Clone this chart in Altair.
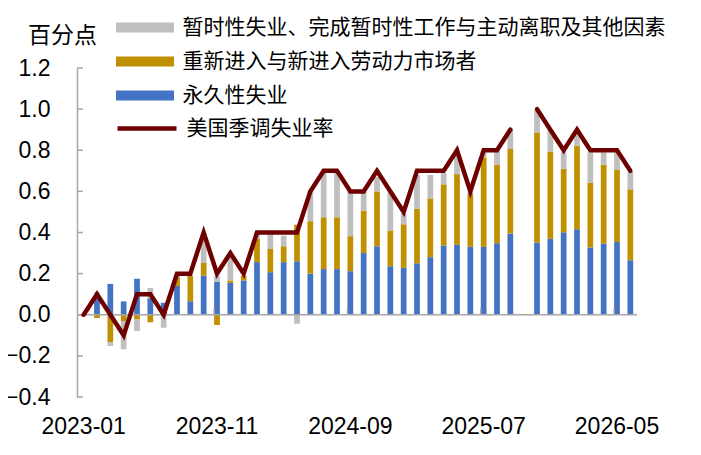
import altair as alt
import pandas as pd

months = [p.strftime("%Y-%m") for p in pd.period_range("2023-01", "2026-06", freq="M")]

# 永久性失业 (percentage points, cumulative change since 2023-01)
permanent = [0.0, 0.08, 0.15, 0.065, 0.175, 0.08, 0.058, 0.14, 0.066, 0.19,
             0.16, 0.155, 0.167, 0.256, 0.207, 0.256, 0.26, 0.20, 0.222, 0.222,
             0.212, 0.30, 0.333, 0.236, 0.228, 0.25, 0.28, 0.337, 0.34, 0.33,
             0.33, 0.348, 0.395, None, 0.351, 0.369, 0.401, 0.416, 0.327, 0.346,
             0.354, 0.265]
# 重新进入与新进入劳动力市场者
reentrant = [0.0, -0.016, -0.133, -0.031, -0.023, -0.036, 0.0, 0.043, 0.124, 0.062,
             -0.05, 0.012, 0.023, 0.114, 0.113, 0.077, 0.178, 0.255, 0.252, 0.252,
             0.17, 0.206, 0.267, 0.174, 0.212, 0.265, 0.286, 0.297, 0.344, 0.257,
             0.435, 0.382, 0.411, None, 0.536, 0.424, 0.309, 0.406, 0.315, 0.384,
             0.35, 0.345]
# 暂时性失业、完成暂时性工作与主动离职及其他因素
temporary = [0.0, 0.03, -0.019, -0.137, -0.056, 0.05, -0.063, 0.01, 0.0, 0.13,
             0.03, 0.123, 0.0, 0.03, 0.09, 0.052, -0.044, 0.145, 0.216, 0.216,
             0.218, 0.094, 0.07, 0.19, 0.05, 0.165, 0.114, 0.056, 0.096, 0.01,
             0.025, 0.07, 0.094, None, 0.108, 0.107, 0.08, 0.068, 0.148, 0.06,
             0.086, 0.086]
# 美国季调失业率
unemp = [0.0, 0.1, 0.0, -0.1, 0.1, 0.1, 0.0, 0.2, 0.2, 0.4,
         0.2, 0.3, 0.2, 0.4, 0.4, 0.4, 0.4, 0.6, 0.7, 0.7,
         0.6, 0.6, 0.7, 0.6, 0.5, 0.7, 0.7, 0.7, 0.8, 0.6,
         0.8, 0.8, 0.9, None, 1.0, 0.9, 0.8, 0.9, 0.8, 0.8,
         0.8, 0.7]

y_ticks = [-0.4, -0.2, 0.0, 0.2, 0.4, 0.6, 0.8, 1.0, 1.2]
x_labels = ["2023-01", "2023-11", "2024-09", "2025-07", "2026-05"]

S_TEMP = "暂时性失业、完成暂时性工作与主动离职及其他因素"
S_RE = "重新进入与新进入劳动力市场者"
S_PERM = "永久性失业"
S_LINE = "美国季调失业率"
bar_series = [S_TEMP, S_RE, S_PERM]
bar_colors = ["#BFBFBF", "#BF9000", "#4472C4"]
LINE_COLOR = "#6E0000"

AXIS_GRAY = "#A6A6A6"
FONT_NUM = "Liberation Sans"
FONT_CJK = "Noto Sans CJK SC"

rows = []
for m, p, r, t in zip(months, permanent, reentrant, temporary):
    if p is None:
        continue
    rows.append({"month": m, "series": S_PERM, "value": p, "k": 0})
    rows.append({"month": m, "series": S_RE, "value": r, "k": 1})
    rows.append({"month": m, "series": S_TEMP, "value": t, "k": 2})
bars_df = pd.DataFrame(rows)

seg, s = [], 0
for v in unemp:
    if v is None:
        s += 1
    seg.append(s)
line_df = pd.DataFrame({"month": months, "value": unemp, "series": S_LINE, "seg": seg})
line_df = line_df.dropna(subset=["value"])

ytick_df = pd.DataFrame({"value": y_ticks})
zero_df = pd.DataFrame({"value": [0.0]})
xtick_df = pd.DataFrame({"month": x_labels[1:]})

x_scale = alt.Scale(domain=months, paddingInner=0.57, paddingOuter=0.285)
y_scale = alt.Scale(domain=[-0.4, 1.2], nice=False, zero=False)

x_axis = alt.Axis(values=x_labels, title=None)
y_axis = alt.Axis(values=y_ticks, format=".1f", title="百分点")

X = alt.X("month:N", scale=x_scale, axis=x_axis)
Y = alt.Y("value:Q", scale=y_scale, axis=y_axis)

RECT = "M-2.9,-0.5L2.9,-0.5L2.9,0.5L-2.9,0.5Z"

bar_legend = alt.Legend(
    title=None, orient="none", legendX=57.5, legendY=-51, direction="vertical",
    symbolType=RECT, symbolSize=400, symbolStrokeWidth=0,
    labelFont=FONT_CJK, labelFontSize=21, labelColor="#000000",
    labelLimit=0, labelOffset=27, rowPadding=12, padding=0,
)
line_legend = alt.Legend(
    title=None, orient="none", legendX=57.5, legendY=48, direction="vertical",
    symbolType="M-2.95,0L2.95,0", symbolSize=400, symbolStrokeWidth=4.5,
    symbolStrokeColor=LINE_COLOR,
    labelFont=FONT_CJK, labelFontSize=21, labelColor="#000000",
    labelLimit=0, labelOffset=27, padding=0,
)

bars = alt.Chart(bars_df).mark_bar().encode(
    x=X,
    y=alt.Y("value:Q", scale=y_scale, axis=y_axis, stack="zero"),
    color=alt.Color("series:N", scale=alt.Scale(domain=bar_series, range=bar_colors),
                    legend=bar_legend),
    order=alt.Order("k:Q", sort="ascending"),
)

zero_line = alt.Chart(zero_df).mark_rule(color=AXIS_GRAY, strokeWidth=1.5).encode(
    y=Y
)

yticks = alt.Chart(ytick_df).mark_rule(color=AXIS_GRAY, strokeWidth=1.5).encode(
    y=Y, x=alt.value(0), x2=alt.value(6)
)

xticks = alt.Chart(xtick_df).mark_rule(color=AXIS_GRAY, strokeWidth=1.5).encode(
    x=alt.X("month:N", scale=x_scale, axis=x_axis, bandPosition=0),
    y=alt.datum(0), y2=alt.datum(0.03),
)

line = alt.Chart(line_df).mark_line(strokeWidth=4.5, strokeCap="round",
                                     color=LINE_COLOR).encode(
    x=X, y=Y,
    strokeDash=alt.StrokeDash("series:N",
                              scale=alt.Scale(domain=[S_LINE], range=[[1, 0]]),
                              legend=line_legend),
    detail="seg:N",
)

chart = alt.layer(bars, zero_line, yticks, xticks, line).resolve_legend(
    color="independent", strokeDash="independent"
).properties(
    width=560, height=329,
    padding={"left": 69, "top": 60, "right": 56, "bottom": 50},
    autosize=alt.AutoSizeParams(type="none"),
    background="#FFFFFF",
).configure_view(stroke=None).configure_axisX(
    domain=False, ticks=False, tickSize=0, grid=False,
    labelFont=FONT_NUM, labelFontSize=23, labelColor="#000000",
    labelPadding=18, labelAngle=0,
).configure_axisY(
    domain=True, domainColor=AXIS_GRAY, domainWidth=1.5,
    ticks=False, tickSize=0, grid=False,
    labelFont=FONT_NUM, labelFontSize=23, labelColor="#000000",
    labelPadding=27,
    titleAngle=0, titleX=-15, titleY=-33, titleAlign="center",
    titleBaseline="middle", titleFont=FONT_CJK, titleFontSize=23,
    titleFontWeight="normal", titleColor="#000000",
)

chart.save("out.html", embed_options={"renderer": "svg", "actions": False})
